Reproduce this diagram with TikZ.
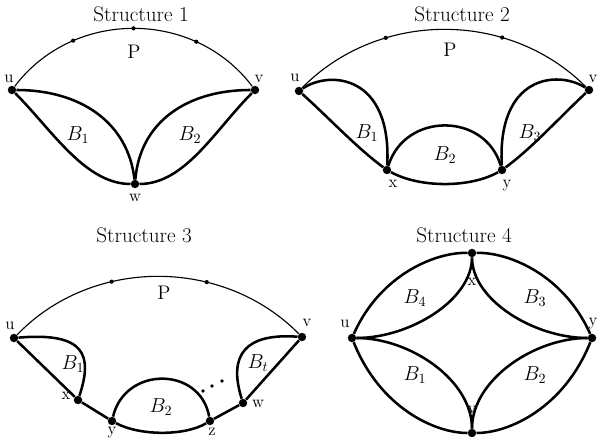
\documentclass[tikz,border=0pt]{standalone}
\begin{document}
\begin{tikzpicture}[
    x=0.025cm, y=-0.025cm,
    vtx/.style={circle, fill, inner sep=0pt, minimum size=6pt},
    pdot/.style={circle, fill, inner sep=0pt, minimum size=3pt},
    blk/.style={line width=1.8pt},
    pth/.style={line width=0.8pt},
    lbl/.style={inner sep=0pt, font=\fontsize{12}{14}\selectfont},
    blab/.style={inner sep=0pt, font=\fontsize{14}{16}\selectfont},
    title/.style={inner sep=0pt, font=\fontsize{15}{18}\selectfont}
]
\useasboundingbox (0,0) rectangle (599,440);
% Structure 1
\node[title] (t1) at (141,14) {Structure 1};
\node[vtx] (u1) at (12,90) {};
\node[vtx] (v1) at (255,90) {};
\node[vtx] (w1) at (135,184) {};
\node[lbl] (lu1) at (9,79) {u};
\node[lbl] (lv1) at (259,79) {v};
\node[lbl] (lw1) at (135,198) {w};
\draw[pth] (u1) .. controls (73,9) and (194,9) .. (v1)
    node[pdot, pos=0.27] (p1a) {} node[pdot, pos=0.5] (p1b) {} node[pdot, pos=0.74] (p1c) {};
\node[blab] (P1) at (134,52) {P};
\draw[blk] (u1) .. controls (52,130) and (85,184) .. (w1);
\draw[blk] (u1) .. controls (80,90) and (128,122) .. (w1);
\draw[blk] (v1) .. controls (215,130) and (185,184) .. (w1);
\draw[blk] (v1) .. controls (187,90) and (140,122) .. (w1);
\node[blab] (B11) at (78,135) {$B_1$};
\node[blab] (B12) at (190,135) {$B_2$};
% Structure 2
\node[title] (t2) at (462,14) {Structure 2};
\node[vtx] (u2) at (299,91) {};
\node[vtx] (v2) at (589,90) {};
\node[vtx] (x2) at (387,170) {};
\node[vtx] (y2) at (502,170) {};
\node[lbl] (lu2) at (295,78) {u};
\node[lbl] (lv2) at (593,79) {v};
\node[lbl] (lx2) at (393,184) {x};
\node[lbl] (ly2) at (507,186) {y};
\draw[pth] (u2) .. controls (379,10) and (509,10) .. (v2)
    node[pdot, pos=0.31] (p2a) {} node[pdot, pos=0.69] (p2b) {};
\node[blab] (P2) at (450,50) {P};
\draw[blk] (u2) .. controls (329,118) and (357,148) .. (x2);
\draw[blk] (u2) .. controls (330,70) and (392,75) .. (x2);
\draw[blk] (x2) .. controls (420,188) and (470,188) .. (y2);
\draw[blk] (x2) .. controls (405,112) and (485,112) .. (y2);
\draw[blk] (y2) .. controls (497,75) and (558,70) .. (v2);
\draw[blk] (y2) .. controls (532,148) and (559,118) .. (v2);
\node[blab] (B21) at (367,133) {$B_1$};
\node[blab] (B22) at (445,155) {$B_2$};
\node[blab] (B23) at (530,133) {$B_3$};
% Structure 3
\node[title] (t3) at (144,235) {Structure 3};
\node[vtx] (u3) at (14,338) {};
\node[vtx] (v3) at (302,337) {};
\node[vtx] (x3) at (78,400) {};
\node[vtx] (y3) at (112,421) {};
\node[vtx] (z3) at (210,421) {};
\node[vtx] (w3) at (243,403) {};
\node[lbl] (lu3) at (10,326) {u};
\node[lbl] (lv3) at (307,323) {v};
\node[lbl] (lx3) at (66,396) {x};
\node[lbl] (ly3) at (112,433) {y};
\node[lbl] (lz3) at (212,432) {z};
\node[lbl] (lw3) at (258,404) {w};
\draw[pth] (u3) .. controls (92,257) and (223,257) .. (v3)
    node[pdot, pos=0.35] (p3a) {} node[pdot, pos=0.66] (p3b) {};
\node[blab] (P3) at (164,293) {P};
\draw[blk] (u3) -- (x3) -- (y3) .. controls (140,436) and (185,436) .. (z3) -- (w3) -- (v3);
\draw[blk] (u3) .. controls (85,332) and (93,355) .. (x3);
\draw[blk] (y3) .. controls (125,366) and (200,366) .. (z3);
\draw[blk] (w3) .. controls (228,355) and (245,333) .. (v3);
\foreach \px/\py in {203/391, 212/386, 222/381}
    \fill (\px,\py) circle (1.9);
\node[blab] (B31) at (73,364) {$B_1$};
\node[blab] (B32) at (161,407) {$B_2$};
\node[blab] (B3t) at (258,363) {$B_t$};
% Structure 4
\node[title] (t4) at (464,235) {Structure 4};
\node[vtx] (x4) at (472,253) {};
\node[vtx] (u4) at (352,338) {};
\node[vtx] (y4) at (592,338) {};
\node[vtx] (v4) at (472,433) {};
\node[lbl] (lu4) at (345,324) {u};
\node[lbl] (lx4) at (472,282) {x};
\node[lbl] (ly4) at (593,324) {y};
\node[lbl] (lv4) at (472,410) {v};
\draw[blk] (u4) .. controls (380,275) and (435,252) .. (x4);
\draw[blk] (u4) .. controls (410,338) and (472,300) .. (x4);
\draw[blk] (x4) .. controls (509,252) and (564,275) .. (y4);
\draw[blk] (x4) .. controls (472,300) and (534,338) .. (y4);
\draw[blk] (u4) .. controls (380,408) and (435,433) .. (v4);
\draw[blk] (u4) .. controls (410,338) and (472,380) .. (v4);
\draw[blk] (v4) .. controls (509,433) and (564,408) .. (y4);
\draw[blk] (v4) .. controls (472,380) and (534,338) .. (y4);
\node[blab] (B44) at (415,298) {$B_4$};
\node[blab] (B43) at (535,298) {$B_3$};
\node[blab] (B41) at (415,375) {$B_1$};
\node[blab] (B42) at (535,375) {$B_2$};
\end{tikzpicture}
\end{document}
